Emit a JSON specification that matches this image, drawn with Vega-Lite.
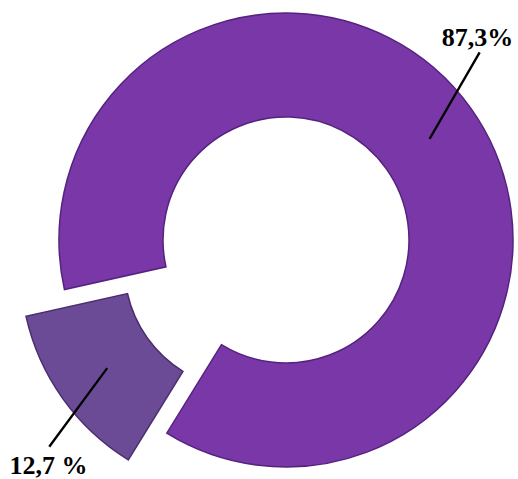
{
  "$schema": "https://vega.github.io/schema/vega-lite/v6.json",
  "width": 464,
  "height": 478,
  "autosize": {"type": "none"},
  "padding": {"left": 54, "top": 1, "right": 0, "bottom": 0},
  "background": "white",
  "config": {"view": {"stroke": null}},
  "data": {
    "values": [
      {"category": "A", "value": 87.3, "label": "87,3%"},
      {"category": "B", "value": 12.7, "label": "12,7 %"}
    ]
  },
  "transform": [
    {"stack": "value", "groupby": [], "sort": [{"field": "value", "order": "descending"}], "as": ["t0", "t1"]}
  ],
  "layer": [
    {
      "transform": [{"filter": "datum.category === 'A'"}],
      "mark": {"type": "arc", "radius": 227, "innerRadius": 123, "fill": "#7A37A8", "stroke": "#55237F", "strokeWidth": 1.5},
      "encoding": {
        "theta": {"field": "t0", "type": "quantitative", "scale": {"domain": [0, 100], "range": [4.4925, 10.7757]}},
        "theta2": {"field": "t1"}
      }
    },
    {
      "transform": [{"filter": "datum.category === 'B'"}],
      "mark": {"type": "arc", "radius": 227, "innerRadius": 123, "fill": "#6C4B96", "stroke": "#4A2E70", "strokeWidth": 1.5, "xOffset": -38.5, "yOffset": 26.7},
      "encoding": {
        "theta": {"field": "t0", "type": "quantitative", "scale": {"domain": [0, 100], "range": [4.4925, 10.7757]}},
        "theta2": {"field": "t1"}
      }
    },
    {
      "transform": [{"filter": "datum.category === 'A'"}],
      "mark": {"type": "arc", "radius": 198, "innerRadius": 100, "fill": null, "stroke": "black", "strokeWidth": 2, "xOffset": 94, "yOffset": -15.4, "thetaOffset": -3.969, "theta2Offset": -3.967},
      "encoding": {
        "theta": {"field": "t0", "type": "quantitative", "scale": {"domain": [0, 100], "range": [4.4925, 10.7757]}},
        "theta2": {"field": "t0"}
      }
    },
    {
      "transform": [{"filter": "datum.category === 'B'"}],
      "mark": {"type": "arc", "radius": 195.6, "innerRadius": 100, "fill": null, "stroke": "black", "strokeWidth": 2, "xOffset": -120, "yOffset": 48.5, "thetaOffset": 0.082, "theta2Offset": 0.084},
      "encoding": {
        "theta": {"field": "t0", "type": "quantitative", "scale": {"domain": [0, 100], "range": [4.4925, 10.7757]}},
        "theta2": {"field": "t0"}
      }
    },
    {
      "transform": [{"filter": "datum.category === 'A'"}],
      "mark": {"type": "text", "radius": 278, "thetaOffset": -3.7326, "font": "Liberation Serif", "fontWeight": "bold", "fontSize": 26, "align": "center", "baseline": "middle", "color": "black"},
      "encoding": {
        "theta": {"field": "t0", "type": "quantitative", "stack": null, "scale": {"domain": [0, 100], "range": [4.4925, 10.7757]}},
        "text": {"field": "label"}
      }
    },
    {
      "transform": [{"filter": "datum.category === 'B'"}],
      "mark": {"type": "text", "radius": 327.5, "thetaOffset": 0.2581, "font": "Liberation Serif", "fontWeight": "bold", "fontSize": 26, "align": "center", "baseline": "middle", "color": "black"},
      "encoding": {
        "theta": {"field": "t0", "type": "quantitative", "stack": null, "scale": {"domain": [0, 100], "range": [4.4925, 10.7757]}},
        "text": {"field": "label"}
      }
    }
  ]
}
